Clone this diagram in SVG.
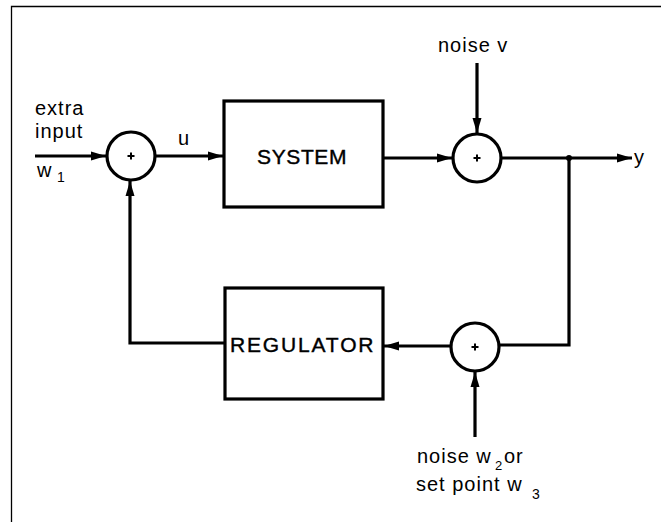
<svg xmlns="http://www.w3.org/2000/svg" width="661" height="522" viewBox="0 0 661 522">
<style>
.ln{fill:none;stroke:#000;stroke-width:3.2}
.box{fill:#fff;stroke:#000;stroke-width:3.2}
.sum{fill:#fff;stroke:#000;stroke-width:3.2}
.pl{stroke:#000;stroke-width:2}
.t{font-family:"Liberation Sans",Arial,sans-serif;font-size:20px;fill:#000;letter-spacing:1px}
.bt{font-family:"Liberation Sans",Arial,sans-serif;font-size:21px;fill:#000;letter-spacing:1.5px;stroke:#000;stroke-width:0.4}
.sub{font-size:14px;letter-spacing:0}
.sub2{font-size:13px;letter-spacing:0}
</style>
<defs>
<marker id="ah" markerWidth="16" markerHeight="10" refX="15" refY="5" orient="auto" markerUnits="userSpaceOnUse">
<path d="M0,0.5 L15,5 L0,9.5 Z" fill="#000"/>
</marker>
</defs>
<rect width="661" height="522" fill="#fff"/>
<path d="M11.5,522 V6.5 H661" fill="none" stroke="#000" stroke-width="1.3"/>

<g id="connectors">
<path class="ln" d="M35,156 H106" marker-end="url(#ah)"/>
<path class="ln" d="M155,156 H223" marker-end="url(#ah)"/>
<path class="ln" d="M383,158 H452" marker-end="url(#ah)"/>
<path class="ln" d="M477,63 V133" marker-end="url(#ah)"/>
<path class="ln" d="M502,158 H632" marker-end="url(#ah)"/>
<circle cx="569" cy="158" r="3" fill="#000"/>
<path class="ln" d="M569,158 V345 H500"/>
<path class="ln" d="M450,346 H384" marker-end="url(#ah)"/>
<path class="ln" d="M475,437 V372" marker-end="url(#ah)"/>
<path class="ln" d="M225,343 H130 V181" marker-end="url(#ah)"/>
</g>

<g id="sum1">
<circle class="sum" cx="131" cy="156" r="24"/>
<path class="pl" d="M127.5,156 H134.5 M131,152.5 V159.5"/>
</g>
<g id="sum2">
<circle class="sum" cx="477" cy="158" r="24"/>
<path class="pl" d="M473.5,158 H480.5 M477,154.5 V161.5"/>
</g>
<g id="sum3">
<circle class="sum" cx="475" cy="347" r="24"/>
<path class="pl" d="M471.5,347 H478.5 M475,343.5 V350.5"/>
</g>

<g id="system">
<rect class="box" x="224" y="101" width="159" height="106"/>
<text class="bt" x="257" y="164" textLength="91" lengthAdjust="spacing">SYSTEM</text>
</g>
<g id="regulator">
<rect class="box" x="225" y="288" width="158" height="111"/>
<text class="bt" x="230" y="352" textLength="145" lengthAdjust="spacing">REGULATOR</text>
</g>

<g id="labels">
<text class="t" x="35" y="115">extra</text>
<text class="t" x="35" y="138">input</text>
<text class="t" x="37" y="177">w<tspan class="sub" x="57" y="182">1</tspan></text>
<text class="t" x="178" y="145">u</text>
<text class="t" x="438" y="52">noise v</text>
<text class="t" x="634" y="164">y</text>
<text class="t" x="417" y="463">noise w<tspan class="sub2" x="495" y="470">2</tspan><tspan x="504" y="463">or</tspan></text>
<text class="t" x="416" y="491">set point w<tspan class="sub" x="532" y="499">3</tspan></text>
</g>
</svg>
